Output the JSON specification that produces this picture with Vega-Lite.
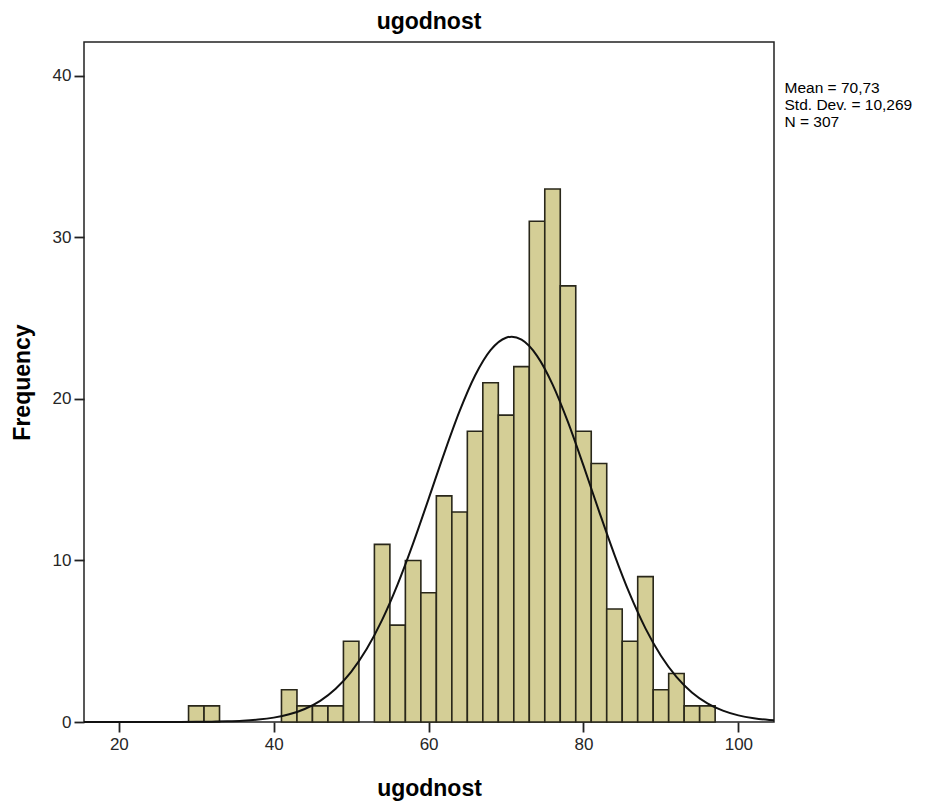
{
  "$schema": "https://vega.github.io/schema/vega-lite/v6.json",
  "width": 690,
  "height": 680,
  "autosize": "none",
  "padding": {"left": 84, "top": 42, "right": 166, "bottom": 80},
  "background": "white",
  "title": {"text": "ugodnost", "fontSize": 23, "fontWeight": "bold", "font": "Liberation Sans", "color": "black", "anchor": "middle", "baseline": "alphabetic", "offset": -10},
  "config": {
    "font": "Liberation Sans",
    "view": {"fill": "#f0f0f0", "stroke": "#222222", "strokeWidth": 1.5},
    "axis": {
      "grid": false,
      "domain": false,
      "tickSize": 10,
      "tickWidth": 1.8,
      "tickColor": "#222222",
      "labelFontSize": 17,
      "labelColor": "#262626",
      "labelFont": "Liberation Sans",
      "titleFont": "Liberation Sans",
      "titleFontWeight": "bold",
      "titleColor": "black"
    }
  },
  "layer": [
    {
      "data": {"values": [
        {"bin_start": 29, "bin_end": 31, "count": 1},
        {"bin_start": 31, "bin_end": 33, "count": 1},
        {"bin_start": 41, "bin_end": 43, "count": 2},
        {"bin_start": 43, "bin_end": 45, "count": 1},
        {"bin_start": 45, "bin_end": 47, "count": 1},
        {"bin_start": 47, "bin_end": 49, "count": 1},
        {"bin_start": 49, "bin_end": 51, "count": 5},
        {"bin_start": 53, "bin_end": 55, "count": 11},
        {"bin_start": 55, "bin_end": 57, "count": 6},
        {"bin_start": 57, "bin_end": 59, "count": 10},
        {"bin_start": 59, "bin_end": 61, "count": 8},
        {"bin_start": 61, "bin_end": 63, "count": 14},
        {"bin_start": 63, "bin_end": 65, "count": 13},
        {"bin_start": 65, "bin_end": 67, "count": 18},
        {"bin_start": 67, "bin_end": 69, "count": 21},
        {"bin_start": 69, "bin_end": 71, "count": 19},
        {"bin_start": 71, "bin_end": 73, "count": 22},
        {"bin_start": 73, "bin_end": 75, "count": 31},
        {"bin_start": 75, "bin_end": 77, "count": 33},
        {"bin_start": 77, "bin_end": 79, "count": 27},
        {"bin_start": 79, "bin_end": 81, "count": 18},
        {"bin_start": 81, "bin_end": 83, "count": 16},
        {"bin_start": 83, "bin_end": 85, "count": 7},
        {"bin_start": 85, "bin_end": 87, "count": 5},
        {"bin_start": 87, "bin_end": 89, "count": 9},
        {"bin_start": 89, "bin_end": 91, "count": 2},
        {"bin_start": 91, "bin_end": 93, "count": 3},
        {"bin_start": 93, "bin_end": 95, "count": 1},
        {"bin_start": 95, "bin_end": 97, "count": 1}
      ]},
      "mark": {"type": "bar", "fill": "#d4ce96", "stroke": "#29271a", "strokeWidth": 1.6},
      "encoding": {
        "x": {"field": "bin_start", "type": "quantitative",
              "scale": {"domain": [15.5, 104.6], "nice": false, "zero": false},
              "axis": {"values": [20, 40, 60, 80, 100], "labelPadding": 4, "title": "ugodnost", "titleFontSize": 23, "titleY": 66, "titleBaseline": "middle"}},
        "x2": {"field": "bin_end"},
        "y": {"field": "count", "type": "quantitative",
              "scale": {"domain": [0, 42.1], "nice": false},
              "axis": {"values": [0, 10, 20, 30, 40], "labelPadding": 3, "title": "Frequency", "titleFontSize": 23, "titleX": -62, "titleBaseline": "middle"}},
        "y2": {"datum": 0}
      }
    },
    {
      "data": {"values": [
        {"x": 15.5, "density": 0.0},
        {"x": 20, "density": 0.0001},
        {"x": 24, "density": 0.0008},
        {"x": 28, "density": 0.0042},
        {"x": 30, "density": 0.0091},
        {"x": 32, "density": 0.0194},
        {"x": 34, "density": 0.0398},
        {"x": 36, "density": 0.0783},
        {"x": 38, "density": 0.1485},
        {"x": 40, "density": 0.271},
        {"x": 42, "density": 0.476},
        {"x": 44, "density": 0.806},
        {"x": 46, "density": 1.313},
        {"x": 48, "density": 2.059},
        {"x": 50, "density": 3.109},
        {"x": 52, "density": 4.52},
        {"x": 54, "density": 6.326},
        {"x": 56, "density": 8.525},
        {"x": 58, "density": 11.061},
        {"x": 60, "density": 13.817},
        {"x": 62, "density": 16.617},
        {"x": 64, "density": 19.24},
        {"x": 66, "density": 21.449},
        {"x": 68, "density": 23.022},
        {"x": 70, "density": 23.79},
        {"x": 70.73, "density": 23.85},
        {"x": 72, "density": 23.668},
        {"x": 74, "density": 22.671},
        {"x": 76, "density": 20.907},
        {"x": 78, "density": 18.563},
        {"x": 80, "density": 15.868},
        {"x": 82, "density": 13.06},
        {"x": 84, "density": 10.349},
        {"x": 86, "density": 7.895},
        {"x": 88, "density": 5.798},
        {"x": 90, "density": 4.101},
        {"x": 92, "density": 2.792},
        {"x": 94, "density": 1.83},
        {"x": 96, "density": 1.155},
        {"x": 98, "density": 0.702},
        {"x": 100, "density": 0.41},
        {"x": 102, "density": 0.231},
        {"x": 104, "density": 0.125},
        {"x": 104.6, "density": 0.105}
      ]},
      "mark": {"type": "line", "color": "#111111", "strokeWidth": 2, "interpolate": "monotone"},
      "encoding": {
        "x": {"field": "x", "type": "quantitative"},
        "y": {"field": "density", "type": "quantitative"}
      }
    },
    {
      "data": {"values": [
        {"label": "Mean = 70,73"},
        {"label": "Std. Dev. = 10,269"},
        {"label": "N = 307"}
      ]},
      "mark": {"type": "point", "opacity": 0},
      "encoding": {
        "color": {"field": "label", "type": "nominal", "sort": null,
                  "scale": {"domain": ["Mean = 70,73", "Std. Dev. = 10,269", "N = 307"], "range": ["black", "black", "black"]},
                  "legend": {"title": null, "orient": "none", "legendX": 685, "legendY": 38,
                             "symbolSize": 0, "symbolOpacity": 0, "symbolStrokeWidth": 0, "labelOffset": 0,
                             "labelFontSize": 15.5, "labelColor": "black", "labelFont": "Liberation Sans", "rowPadding": 0, "padding": 0}}
      }
    }
  ]
}
